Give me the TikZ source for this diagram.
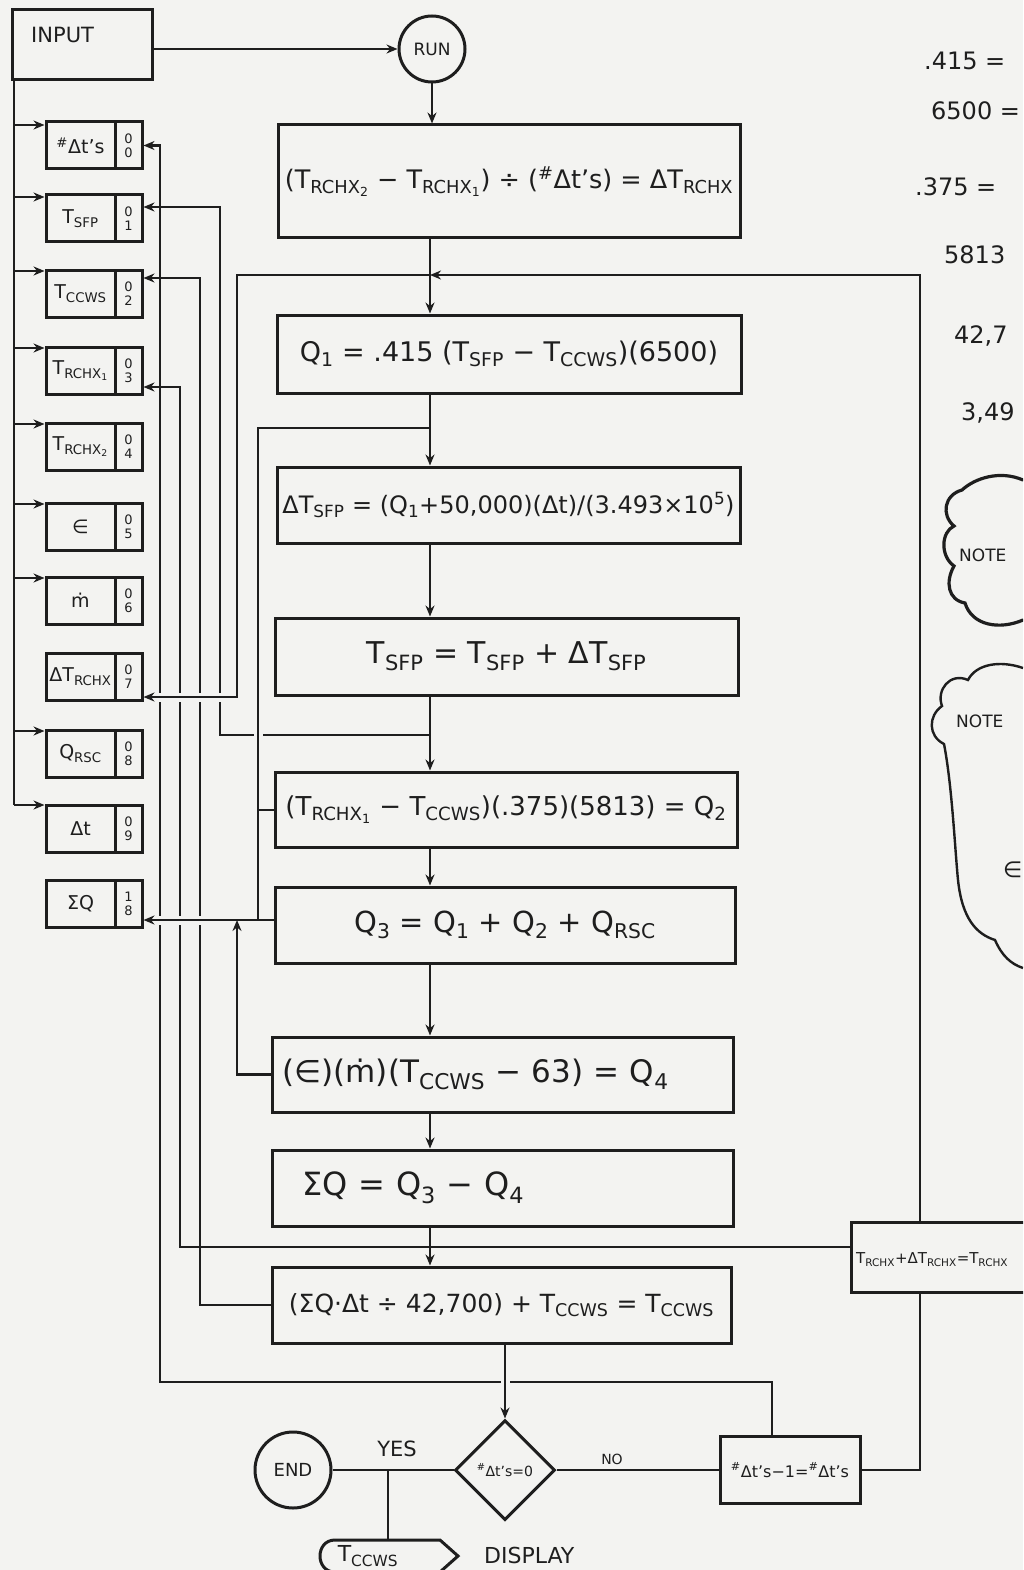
\documentclass[tikz,border=0pt]{standalone}
\usepackage{fontspec}
\setmainfont{DejaVu Sans}
\usetikzlibrary{arrows.meta,shapes.geometric,calc}
\definecolor{bg}{RGB}{243,243,241}
\definecolor{ink}{RGB}{30,30,30}
\newcommand{\Ts}[1]{T\textsubscript{#1}}
\newcommand{\Qs}[1]{Q\textsubscript{#1}}
\newcommand{\nt}{\textsuperscript{\#}}
\newcommand{\mkreg}[5]{%
  \node[regbox] (#1) at (94,#2) {};
  \node[regtxt] (#1t) at (80.5,#2) {#3};
  \node[regdig] (#1d) at (128.5,#2) {#4\\#5};
  \draw[boxln] (115,#2-23.5) -- (115,#2+23.5);
}
\begin{document}
\begin{tikzpicture}[x=1pt,y=-1pt,
  ln/.style={line width=2.2pt, draw=ink},
  arr/.style={ln, -{Stealth[length=11pt,width=9pt]}},
  boxln/.style={line width=3pt, draw=ink},
  mainbox/.style={boxln, inner sep=0pt, text=ink, font=\fontsize{27}{30}\selectfont},
  regbox/.style={boxln, minimum width=96pt, minimum height=47pt, inner sep=0pt},
  regtxt/.style={inner sep=0pt, text=ink, font=\fontsize{19}{21}\selectfont},
  regdig/.style={inner sep=0pt, align=center, text=ink, font=\fontsize{13}{14}\selectfont},
  lbl/.style={inner sep=0pt, text=ink, font=\fontsize{20}{22}\selectfont},
  hop/.style={preaction={draw=bg, line width=9pt, -, shorten <=7pt, shorten >=7pt}},
  cloudln/.style={line width=3.2pt, draw=ink, line cap=round},
]
\useasboundingbox[fill=bg] (0,0) rectangle (1023,1570);
\clip (0,0) rectangle (1023,1570);

% ---------- main nodes ----------
\node[boxln, minimum width=140pt, minimum height=70pt, inner sep=0pt] (inp) at (82,45) {};
\node[lbl, anchor=west, font=\fontsize{21}{23}\selectfont] (inplbl) at (31,35) {INPUT};
\node[boxln, circle, minimum size=66pt, inner sep=0pt, text=ink, font=\fontsize{17}{19}\selectfont] (run) at (432,49) {RUN};

\node[mainbox, minimum width=462pt, minimum height=113pt, font=\fontsize{25.5}{28}\selectfont] (b1) at (509,181.5)
  {(\Ts{RCHX\textsubscript{2}} − \Ts{RCHX\textsubscript{1}}) ÷ (\nt Δt's) = Δ\Ts{RCHX}};
\node[mainbox, minimum width=464pt, minimum height=78pt] (b2) at (509,354)
  {\Qs{1} = .415 (\Ts{SFP} − \Ts{CCWS})(6500)};
\node[mainbox, minimum width=463pt, minimum height=76pt, font=\fontsize{24}{27}\selectfont] (b3) at (508.5,505)
  {Δ\Ts{SFP} = (\Qs{1}+50,000)(Δt)/(3.493×10\textsuperscript{5})};
\node[mainbox, minimum width=463pt, minimum height=77pt, font=\fontsize{30}{33}\selectfont] (b4) at (506.5,656.5)
  {\Ts{SFP} = \Ts{SFP} + Δ\Ts{SFP}};
\node[mainbox, minimum width=462pt, minimum height=75pt, font=\fontsize{26}{29}\selectfont] (b5) at (506,809.5)
  {(\Ts{RCHX\textsubscript{1}} − \Ts{CCWS})(.375)(5813) = \Qs{2}};
\node[mainbox, minimum width=460pt, minimum height=76pt, font=\fontsize{29}{32}\selectfont] (b6) at (505,925)
  {\Qs{3} = \Qs{1} + \Qs{2} + \Qs{RSC}};
\node[mainbox, minimum width=461pt, minimum height=75pt, text width=440pt, align=left, font=\fontsize{31}{34}\selectfont] (b7) at (502.5,1074.5)
  {(∈)(ṁ)(\Ts{CCWS} − 63) = \Qs{4}};
\node[mainbox, minimum width=461pt, minimum height=76pt, text width=400pt, align=left, font=\fontsize{32}{35}\selectfont] (b8) at (502.5,1188)
  {ΣQ = \Qs{3} − \Qs{4}};
\node[mainbox, minimum width=459pt, minimum height=76pt, font=\fontsize{25}{28}\selectfont] (b9) at (501.5,1305)
  {(ΣQ·Δt ÷ 42,700) + \Ts{CCWS} = \Ts{CCWS}};

\node[boxln, diamond, aspect=1, minimum width=100pt, minimum height=100pt, inner sep=0pt, text=ink, font=\fontsize{14}{16}\selectfont] (dec) at (505,1470) {\nt Δt's=0};
\node[boxln, circle, minimum size=76pt, inner sep=0pt, text=ink, font=\fontsize{18}{20}\selectfont] (end) at (293,1470) {END};
\node[boxln, minimum width=140pt, minimum height=67pt, inner sep=0pt, text=ink, font=\fontsize{16}{18}\selectfont] (dbox) at (790,1470) {\nt Δt's−1=\nt Δt's};
\node[boxln, minimum width=200pt, minimum height=70pt, inner sep=0pt] (rbox) at (951,1257) {};
\node[inner sep=0pt, anchor=west, text=ink, font=\fontsize{15}{17}\selectfont] (rtxt) at (856,1260) {\Ts{RCHX}+Δ\Ts{RCHX}=\Ts{RCHX}};

% display symbol
\draw[boxln] (335,1540) -- (440,1540) -- (458,1556) -- (440,1572) -- (335,1572) .. controls (315,1572) and (315,1540) .. (335,1540) -- cycle;
\node[lbl, font=\fontsize{22}{24}\selectfont] (disp) at (368,1556) {\Ts{CCWS}};
\node[lbl, anchor=west, font=\fontsize{22}{24}\selectfont] (displbl) at (484,1555) {DISPLAY};
\coordinate (dispn) at (388,1540);

\node[lbl, font=\fontsize{21}{23}\selectfont] (yes) at (397,1449) {YES};
\node[lbl, font=\fontsize{14}{16}\selectfont] (no) at (612,1459) {NO};

% ---------- registers ----------
\mkreg{r00}{145.5}{\nt Δt's}{0}{0}
\mkreg{r01}{218.5}{\Ts{SFP}}{0}{1}
\mkreg{r02}{293.5}{\Ts{CCWS}}{0}{2}
\mkreg{r03}{370.5}{\Ts{RCHX\textsubscript{1}}}{0}{3}
\mkreg{r04}{446.5}{\Ts{RCHX\textsubscript{2}}}{0}{4}
\mkreg{r05}{526.5}{∈}{0}{5}
\mkreg{r06}{600.5}{ṁ}{0}{6}
\mkreg{r07}{676.5}{Δ\Ts{RCHX}}{0}{7}
\mkreg{r08}{753.5}{\Qs{RSC}}{0}{8}
\mkreg{r09}{828.5}{Δt}{0}{9}
\mkreg{r18}{903.5}{ΣQ}{1}{8}

% ---------- right-hand notes ----------
\node[lbl, anchor=west, font=\fontsize{24}{26}\selectfont] (n1) at (924,61) {.415 =};
\node[lbl, anchor=west, font=\fontsize{24}{26}\selectfont] (n2) at (931,111) {6500 =};
\node[lbl, anchor=west, font=\fontsize{24}{26}\selectfont] (n3) at (915,187) {.375 =};
\node[lbl, anchor=west, font=\fontsize{24}{26}\selectfont] (n4) at (944,255) {5813};
\node[lbl, anchor=west, font=\fontsize{24}{26}\selectfont] (n5) at (954,336) {42,7};
\node[lbl, anchor=west, font=\fontsize{24}{26}\selectfont] (n6) at (961,413) {3,49};

\draw[cloudln] (1023,480) .. controls (1000,470) and (975,478) .. (962,490)
  .. controls (944,495) and (941,515) .. (954,526)
  .. controls (941,532) and (940,556) .. (954,566)
  .. controls (945,582) and (948,600) .. (965,603)
  .. controls (972,626) and (1000,630) .. (1023,620);
\node[lbl, anchor=west, font=\fontsize{17}{19}\selectfont] (note1) at (959,555) {NOTE};

\draw[line width=2.4pt, draw=ink] (1023,668) .. controls (1000,660) and (976,664) .. (968,680)
  .. controls (950,672) and (936,690) .. (942,706)
  .. controls (928,716) and (928,736) .. (944,744)
  .. controls (952,785) and (955,850) .. (958,880)
  .. controls (962,918) and (976,934) .. (995,940)
  .. controls (1002,956) and (1011,964) .. (1023,968);
\node[lbl, anchor=west, font=\fontsize{17}{19}\selectfont] (note2) at (956,721) {NOTE};
\node[lbl, anchor=west, font=\fontsize{22}{24}\selectfont] (eps) at (1003,870) {∈};

% ---------- connectors ----------
\coordinate (fx) at (430,0);
\coordinate (bus) at (14,0);
\coordinate (loopx) at (920,0);
\coordinate (j1) at (430,275);
\coordinate (j2) at (430,428);
\coordinate (j3) at (430,735);

% INPUT -> RUN and input bus
\draw[arr] (inp.east |- run) -- (run.west);
\draw[ln] (inp.south -| bus) -- (bus |- 0,805);
\draw[arr] (bus |- 0,125) -- (r00.west |- 0,125);
\draw[arr] (bus |- 0,197) -- (r01.west |- 0,197);
\draw[arr] (bus |- 0,271) -- (r02.west |- 0,271);
\draw[arr] (bus |- 0,348) -- (r03.west |- 0,348);
\draw[arr] (bus |- 0,424) -- (r04.west |- 0,424);
\draw[arr] (bus |- 0,504) -- (r05.west |- 0,504);
\draw[arr] (bus |- 0,578) -- (r06.west |- 0,578);
\draw[arr] (bus |- 0,731) -- (r08.west |- 0,731);
\draw[arr] (bus |- 0,805) -- (r09.west |- 0,805);

% register write-backs
\draw[arr] ([xshift=-18pt]dbox.north) |- (160,1382) |- (r00.east);
\draw[arr] (b9.west) -| (200,278) -- (r02.east |- 0,278);
\draw[arr] (rbox.west |- 0,1247) -| (180,387) -- (r03.east |- 0,387);
\draw[arr] (j3) -| (220,207) -- (r01.east |- 0,207);
\draw[arr,hop] (j1) -| (237,697) -- (r07.east |- 0,697);
\draw[arr,hop] (b6.west |- 0,920) -- (r18.east |- 0,920);
\draw[ln,hop] (j2) -| (258,920);
\draw[ln] (258,810) -- (b5.west |- 0,810);
\draw[arr] (b7.west) -| (237,920);

% main flow
\draw[arr] (run.south) -- (run.south |- b1.north);
\draw[arr] (b1.south -| fx) -- (b2.north -| fx);
\draw[arr] (b2.south -| fx) -- (b3.north -| fx);
\draw[arr] (b3.south -| fx) -- (b4.north -| fx);
\draw[arr] (b4.south -| fx) -- (b5.north -| fx);
\draw[arr] (b5.south -| fx) -- (b6.north -| fx);
\draw[arr] (b6.south -| fx) -- (b7.north -| fx);
\draw[arr] (b7.south -| fx) -- (b8.north -| fx);
\draw[arr] (b8.south -| fx) -- (b9.north -| fx);
\draw[arr,hop] (dec.north |- b9.south) -- (dec.north);

% decision branches
\draw[ln] (dec.west) -- (end.east);
\draw[ln] (dispn |- dec.west) -- (dispn);
\draw[ln] (dec.east) -- (dbox.west);
\draw[ln] (dbox.east) -| (rbox.south -| loopx);
\draw[arr] (rbox.north -| loopx) |- (j1);
\end{tikzpicture}
\end{document}
